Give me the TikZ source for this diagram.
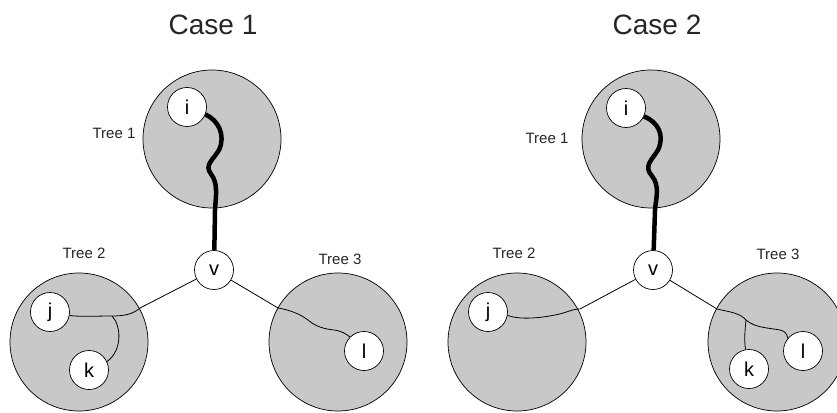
\documentclass[tikz,border=0pt]{standalone}
\usepackage{fontspec}
\setmainfont{Liberation Sans}
\definecolor{treegray}{RGB}{200,200,200}
\tikzset{
  tree/.style={circle,draw,line width=0.7pt,fill=treegray,minimum size=138pt,inner sep=0pt},
  vert/.style={circle,draw,line width=0.7pt,fill=white,minimum size=39pt,inner sep=0pt,font=\fontsize{20}{24}\selectfont},
  title/.style={font=\fontsize{28}{32}\selectfont,text=black!85},
  lab/.style={font=\fontsize{15}{18}\selectfont,text=black!85},
  path/.style={line width=0.8pt},
  heavy/.style={line width=4.5pt}
}
\begin{document}
\begin{tikzpicture}[x=1pt,y=-1pt]
\useasboundingbox (0,0) rectangle (837,412);
%% Case 1
\node[title] (case1) at (213,25) {Case 1};
\node[tree] (ta1) at (212,139) {};
\node[tree] (tb1) at (79,342) {};
\node[tree] (tc1) at (338,342) {};
\node[lab] (la1) at (114,133) {Tree 1};
\node[lab] (lb1) at (84,253) {Tree 2};
\node[lab] (lc1) at (340,259) {Tree 3};
\node[vert] (i1) at (187,107) {i};
\node[vert] (v1) at (214,270) {v};
\node[vert] (j1) at (50,312) {j};
\node[vert] (k1) at (89,370) {k};
\node[vert] (l1) at (364,351) {l};
\draw[heavy] (i1.-22) .. controls (218,120) and (226,135) .. (219,150) .. controls (213,160) and (204,165) .. (211,174) .. controls (218,183) and (216,195) .. (215,210) -- (v1);
\draw[path] (v1) -- (140,308) .. controls (133,314) and (125,316) .. (112,316) coordinate (b1) .. controls (95,316) and (80,317) .. (j1.-10);
\draw[path] (b1) .. controls (121,325) and (123,350) .. (k1.25);
\draw[path] (v1) -- (278,308) .. controls (290,310) and (300,314) .. (308,320) .. controls (316,327) and (325,329) .. (334,330) .. controls (342,331) and (346,334) .. (l1.135);
%% Case 2
\node[title] (case2) at (657,25) {Case 2};
\node[tree] (ta2) at (651,139) {};
\node[tree] (tb2) at (517,342) {};
\node[tree] (tc2) at (777,342) {};
\node[lab] (la2) at (547,138) {Tree 1};
\node[lab] (lb2) at (514,253) {Tree 2};
\node[lab] (lc2) at (778,254) {Tree 3};
\node[vert] (i2) at (626,108) {i};
\node[vert] (v2) at (653,270) {v};
\node[vert] (j2) at (488,312) {j};
\node[vert] (k2) at (749,369) {k};
\node[vert] (l2) at (803,351) {l};
\draw[heavy] (i2.-25) .. controls (658,122) and (665,135) .. (658,150) .. controls (652,160) and (643,166) .. (652,176) .. controls (660,186) and (656,198) .. (655,210) -- (v2);
\draw[path] (v2) -- (580,309) .. controls (572,309) and (566,313) .. (555,315) .. controls (540,318) and (520,320) .. (j2.-10);
\draw[path] (v2) -- (717,309) .. controls (730,312) and (740,313) .. (746,320) coordinate (b2) .. controls (755,328) and (770,328) .. (780,330) .. controls (785,331) and (787,334) .. (l2.140);
\draw[path] (b2) .. controls (745,330) and (744,340) .. (k2.100);
\end{tikzpicture}
\end{document}
